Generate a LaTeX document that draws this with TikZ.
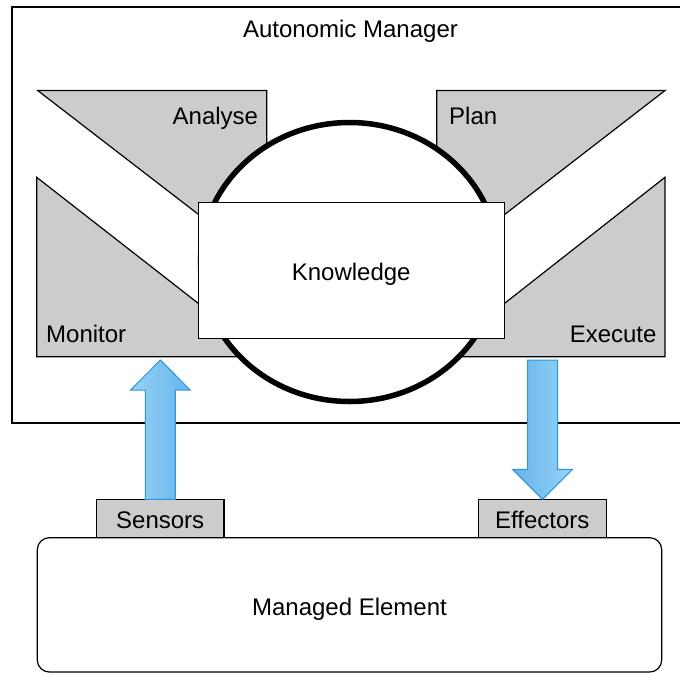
\documentclass[tikz,border=0pt]{standalone}
\usepackage{fontspec}
\setmainfont{Liberation Sans}
\usetikzlibrary{calc}
\definecolor{boxgray}{HTML}{CCCCCC}
\definecolor{arrlight}{HTML}{95D2F7}
\definecolor{arrdark}{HTML}{66B4EA}
\definecolor{arredge}{HTML}{2C96DD}
\tikzset{
  x=1pt, y=-1pt,
  thin line/.style={line width=1.2pt, draw=black},
  tri/.style={thin line, fill=boxgray},
  plainbox/.style={thin line, inner sep=0pt, outer sep=0pt},
  lbl/.style={inner sep=0pt, font=\fontsize{24}{28}\selectfont},
  bigarrow/.style={draw=arredge, line width=1pt, line join=miter},
}
\begin{document}
\begin{tikzpicture}
\useasboundingbox (0,0) rectangle (680,673);
% Autonomic manager frame (right side runs off the picture)
\node[plainbox, draw, minimum width=688pt, minimum height=416pt, anchor=north west] (am) at (12,7) {};
\node[lbl, anchor=base] (amt) at (350.5,37.5) {Autonomic Manager};
% Analyse / Monitor / Plan / Execute triangles
\filldraw[tri] (37.7,90.5) -- (266.7,90.5) -- (266.7,267) -- cycle;
\filldraw[tri] (36.7,177.3) -- (36.7,356.7) -- (266.7,356.7) -- cycle;
\filldraw[tri] (665,90.5) -- (436.7,90.5) -- (436.7,267) -- cycle;
\filldraw[tri] (665,177.3) -- (665,356.7) -- (436.7,356.7) -- cycle;
\node[lbl, anchor=base east] (analyse) at (258.3,124) {Analyse};
\node[lbl, anchor=base west] (plan) at (449,124) {Plan};
\node[lbl, anchor=base west] (monitor) at (46,342) {Monitor};
\node[lbl, anchor=base east] (execute) at (656.7,342) {Execute};
% loop circle
\filldraw[line width=5.5pt, fill=white] (349.5,262) ellipse [x radius=149, y radius=139.5];
% Knowledge box
\node[plainbox, draw, fill=white, minimum width=306pt, minimum height=135.6pt] (know) at (351.3,270.5) {};
\node[lbl, anchor=base] (knowt) at (351.2,280) {Knowledge};
% Managed element
\node[plainbox, draw, fill=white, rounded corners=12pt, minimum width=624.4pt, minimum height=134.3pt, anchor=north west] (me) at (37.3,537.7) {};
\node[lbl, anchor=base] (met) at (349.5,615) {Managed Element};
% Sensors / Effectors
\node[plainbox, draw, fill=boxgray, minimum width=127.3pt, minimum height=38.4pt, anchor=south] (sens) at (160.4,537.7) {};
\node[lbl, anchor=base] (senst) at (160.2,528) {Sensors};
\node[plainbox, draw, fill=boxgray, minimum width=128.4pt, minimum height=38.4pt, anchor=south] (eff) at (542.5,537.7) {};
\node[lbl, anchor=base] (efft) at (542.3,528) {Effectors};
% block arrows
\coordinate (upTip) at (160.4,360);
\coordinate (downTop) at (542.5,360);
\draw[bigarrow, left color=arrlight, right color=arrdark]
  ($(sens.north)+(-15,0)$) -- ($(upTip)+(-15,30)$) -- ($(upTip)+(-29.8,30)$) -- (upTip)
  -- ($(upTip)+(29.8,30)$) -- ($(upTip)+(15,30)$) -- ($(sens.north)+(15,0)$) -- cycle;
\draw[bigarrow, left color=arrdark, right color=arrlight]
  ($(downTop)+(-15,0)$) -- ($(eff.north)+(-15,-30)$) -- ($(eff.north)+(-30,-30)$) -- (eff.north)
  -- ($(eff.north)+(30,-30)$) -- ($(eff.north)+(15,-30)$) -- ($(downTop)+(15,0)$) -- cycle;
\end{tikzpicture}
\end{document}
